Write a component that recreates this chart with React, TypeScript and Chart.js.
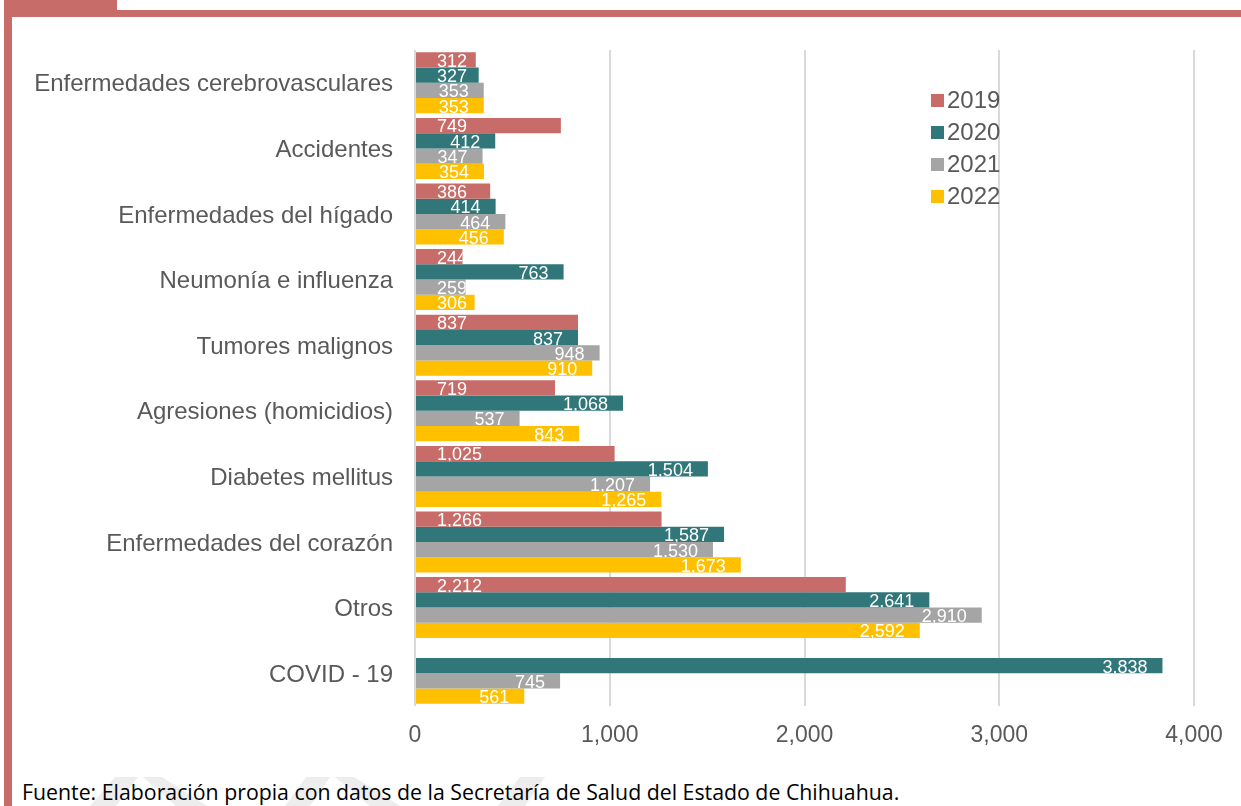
import React, { useEffect, useRef } from "react";
import { Chart, registerables } from "chart.js";

Chart.register(...registerables);

const categories = [
  "Enfermedades cerebrovasculares",
  "Accidentes",
  "Enfermedades del hígado",
  "Neumonía e influenza",
  "Tumores malignos",
  "Agresiones (homicidios)",
  "Diabetes mellitus",
  "Enfermedades del corazón",
  "Otros",
  "COVID - 19",
];

const seriesLabels = ["2019", "2020", "2021", "2022"];
const values2019 = [312, 749, 386, 244, 837, 719, 1025, 1266, 2212, null];
const values2020 = [327, 412, 414, 763, 837, 1068, 1504, 1587, 2641, 3838];
const values2021 = [353, 347, 464, 259, 948, 537, 1207, 1530, 2910, 745];
const values2022 = [353, 354, 456, 306, 910, 843, 1265, 1673, 2592, 561];
const seriesColors = ["#C76C69", "#31777A", "#A5A5A5", "#FFC000"];
const xTicks = [0, 1000, 2000, 3000, 4000];

const FONT = "'Liberation Sans', Arial, sans-serif";
const fmt = (v: number) => v.toLocaleString("en-US");

const labelPlugin = {
  id: "barLabels",
  afterDatasetsDraw(chart: any) {
    const ctx = chart.ctx;
    ctx.save();
    ctx.font = `18px ${FONT}`;
    ctx.fillStyle = "#FFFFFF";
    ctx.textBaseline = "middle";
    chart.data.datasets.forEach((ds: any, di: number) => {
      const meta = chart.getDatasetMeta(di);
      meta.data.forEach((el: any, i: number) => {
        const v = ds.data[i];
        if (v === null || v === undefined) return;
        const { x, y, base, height } = el.getProps(["x", "y", "base", "height"], true);
        const txt = fmt(v);
        const w = ctx.measureText(txt).width;
        ctx.save();
        ctx.beginPath();
        ctx.rect(base, y - height / 2, x - base, height);
        ctx.clip();
        let left: number;
        if (di === 0) {
          left = base + 21;
        } else {
          const right = Math.max(x - 15, base + 21 + w);
          left = right - w;
        }
        ctx.textAlign = "left";
        ctx.fillText(txt, left, y + 2);
        ctx.restore();
      });
    });
    ctx.restore();
  },
};

const legendPlugin = {
  id: "insideLegend",
  afterDraw(chart: any) {
    const ctx = chart.ctx;
    ctx.save();
    ctx.font = `24px ${FONT}`;
    ctx.textBaseline = "middle";
    ctx.textAlign = "left";
    chart.data.datasets.forEach((ds: any, i: number) => {
      const cy = 100.5 + i * 32;
      ctx.fillStyle = ds.backgroundColor;
      ctx.fillRect(931, cy - 6.5, 13, 13);
      ctx.fillStyle = "#595959";
      ctx.fillText(ds.label, 947, cy + 1);
    });
    ctx.restore();
  },
};

export default function App() {
  const ref = useRef<HTMLCanvasElement | null>(null);

  useEffect(() => {
    document.body.style.margin = "0";
    const data = [values2019, values2020, values2021, values2022];
    const chart = new Chart(ref.current as HTMLCanvasElement, {
      type: "bar",
      data: {
        labels: categories,
        datasets: seriesLabels.map((l, i) => ({
          label: l,
          data: data[i],
          backgroundColor: seriesColors[i],
          borderWidth: 0,
          categoryPercentage: 0.93,
          barPercentage: 1,
        })),
      },
      options: {
        indexAxis: "y",
        responsive: false,
        animation: false,
        layout: { padding: { top: 50, right: 47, left: 0, bottom: 0 } },
        plugins: { legend: { display: false }, tooltip: { enabled: false } },
        scales: {
          x: {
            min: 0,
            max: 4000,
            afterBuildTicks: (axis: any) => {
              axis.ticks = xTicks.map((v) => ({ value: v }));
            },
            afterFit: (axis: any) => {
              axis.height = 54;
            },
            ticks: {
              callback: (v: any) => fmt(Number(v)),
              font: { family: FONT, size: 23 },
              color: "#595959",
              padding: 16,
              maxRotation: 0,
            },
            grid: { color: "#D9D9D9", lineWidth: 2, drawTicks: false },
            border: { display: false },
          },
          y: {
            afterFit: (axis: any) => {
              axis.width = 415;
            },
            ticks: {
              font: { family: FONT, size: 24 },
              color: "#595959",
              padding: 22,
              labelOffset: 2,
            },
            grid: { display: false, drawTicks: false },
            border: { display: false },
          },
        },
      },
      plugins: [labelPlugin, legendPlugin],
    } as any);
    return () => chart.destroy();
  }, []);

  const shapes = [
    "115,777 138,777 116,806 90,806",
    "143,777 162,777 207,806 176,806",
    "306,777 330,777 310,806 285,806",
    "335,777 354,777 400,806 370,806",
    "520,777 545,777 525,806 498,806",
  ];

  return (
    <div
      style={{
        position: "fixed",
        left: 0,
        top: 0,
        width: 1241,
        height: 806,
        background: "#FFFFFF",
        overflow: "hidden",
      }}
    >
      <svg
        width={1241}
        height={806}
        style={{ position: "absolute", left: 0, top: 0 }}
      >
        {shapes.map((p, i) => (
          <polygon key={i} points={p} fill="#EDEDED" />
        ))}
        <rect x={4} y={0} width={8} height={806} fill="#C76C69" />
        <rect x={4} y={0} width={113} height={17} fill="#C76C69" />
        <rect x={4} y={10} width={1237} height={7} fill="#C76C69" />
      </svg>
      <canvas
        ref={ref}
        width={1241}
        height={760}
        style={{ position: "absolute", left: 0, top: 0 }}
      />
      <div
        style={{
          position: "absolute",
          left: 22,
          top: 779,
          fontFamily: "'Open Sans', 'Noto Sans', sans-serif",
          fontSize: 21.3,
          color: "#000000",
          whiteSpace: "nowrap",
          lineHeight: "26px",
        }}
      >
        Fuente: Elaboración propia con datos de la Secretaría de Salud del Estado de Chihuahua.
      </div>
    </div>
  );
}
